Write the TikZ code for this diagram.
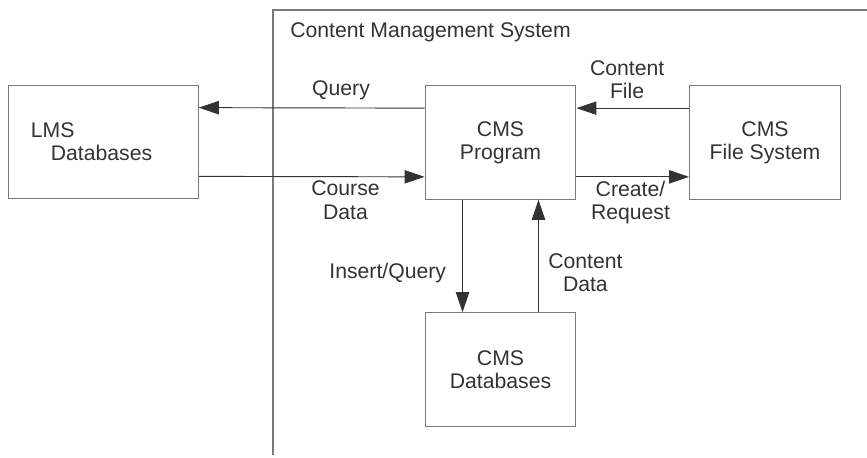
\documentclass[tikz,border=0pt]{standalone}
\usepackage{fontspec}
\setmainfont{Liberation Sans}
\usetikzlibrary{arrows.meta,calc}

\definecolor{boxgray}{HTML}{7A7A7A}
\definecolor{inkgray}{HTML}{333333}

\tikzset{
  box/.style={draw=boxgray, line width=0.9pt, align=center, text=inkgray,
    minimum width=113pt, minimum height=85pt, inner sep=0pt},
  arr/.style={draw=inkgray, line width=0.7pt,
    -{Triangle[length=15pt,width=10pt]}},
  lbl/.style={text=inkgray, align=center, inner sep=2pt}
}

\begin{document}
\begin{tikzpicture}[x=0.75pt, y=-0.75pt, font=\fontsize{15.9}{17.3}\selectfont]
  \useasboundingbox (0,0) rectangle (867,457);

  % system boundary
  \draw[boxgray, line width=0.9pt] (867,10) -- (273,10) -- (273,455);
  \node[lbl, anchor=west, inner sep=0pt] (cmstitle) at (290,32) {Content Management System};

  % boxes
  \node[box, minimum width=142pt, align=left] (lms) at (103.5,142)
    {LMS\\\hspace*{15pt}Databases\hspace*{18pt}};
  \node[box] (prog) at (500.5,142.5) {CMS\\Program};
  \node[box] (fsys) at (765,142.5) {CMS\\File System};
  \node[box] (cmsdb) at (500.5,369.5) {CMS\\Databases};

  % horizontal links
  \draw[arr] ($(prog.north west)!0.2!(prog.south west)$)
    -- ($(lms.north east)!0.2!(lms.south east)$)
    node[lbl, above=4pt, pos=0.37] (qlbl) {Query};
  \draw[arr] ($(lms.north east)!0.8!(lms.south east)$)
    -- ($(prog.north west)!0.8!(prog.south west)$)
    node[lbl, below=1pt, pos=0.65] (cdlbl) {Course\\Data};
  \draw[arr] ($(fsys.north west)!0.2!(fsys.south west)$)
    -- ($(prog.north east)!0.2!(prog.south east)$)
    node[lbl, above=5pt, pos=0.55] (cflbl) {Content\\File};
  \draw[arr] ($(prog.north east)!0.8!(prog.south east)$)
    -- ($(fsys.north west)!0.8!(fsys.south west)$)
    node[lbl, below=1pt, pos=0.48] (crlbl) {Create/\\Request};

  % vertical links
  \draw[arr] ($(prog.south west)!0.25!(prog.south east)$)
    -- ($(cmsdb.north west)!0.25!(cmsdb.north east)$)
    node[lbl, left=10pt, pos=0.65] (iqlbl) {Insert/Query};
  \draw[arr] ($(cmsdb.north west)!0.75!(cmsdb.north east)$)
    -- ($(prog.south west)!0.75!(prog.south east)$)
    node[lbl, right=5pt, pos=0.35] (dtlbl) {Content\\Data};
\end{tikzpicture}
\end{document}
